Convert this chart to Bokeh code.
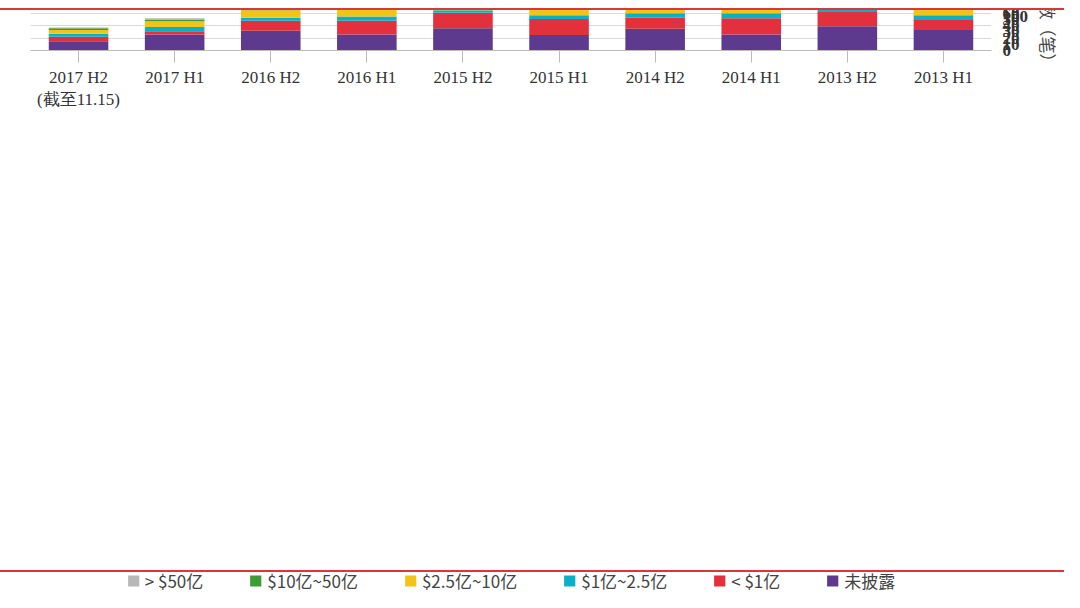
from bokeh.plotting import figure
from bokeh.models import Legend, LegendItem, Div, ColumnDataSource, LinearAxis, SingleIntervalTicker
from bokeh.layouts import column
from bokeh.embed import file_html
from bokeh.resources import INLINE

categories = ["2017 H2\n(截至11.15)", "2017 H1", "2016 H2", "2016 H1", "2015 H2",
              "2015 H1", "2014 H2", "2014 H1", "2013 H2", "2013 H1"]
undisclosed = [15, 26, 32, 26, 36, 25, 35, 26, 39, 33]
lt_1 = [7, 5, 16, 22, 25, 26, 18, 26, 23, 16]
b1_25 = [5, 7, 5, 7, 4, 6, 7, 8, 9, 8]
b25_10 = [6, 9, 12, 11, 14, 9, 20, 11, 19, 12]
b10_50 = [3, 2, 7, 1, 7, 9, 8, 7, 1, 1]
gt_50 = [1, 3, 1, 4, 3, 6, 3, 0, 4, 0]
series_names = ["未披露", "< $1亿", "$1亿~2.5亿", "$2.5亿~10亿", "$10亿~50亿", "> $50亿"]
colors = ["#5e3a8e", "#e2313d", "#0ab0c8", "#f2c418", "#3f9b35", "#b7b7b7"]
keys = ["s0", "s1", "s2", "s3", "s4", "s5"]

src = ColumnDataSource(dict(cat=categories, s0=undisclosed, s1=lt_1, s2=b1_25,
                            s3=b25_10, s4=b10_50, s5=gt_50))

p = figure(x_range=categories, y_range=(0, 100), width=1064, height=560,
           output_backend="svg", toolbar_location=None,
           min_border_left=30, min_border_right=10, min_border_top=40)
r = p.vbar_stack(keys, x="cat", width=0.62, color=colors, source=src, line_color=None)

p.yaxis.visible = False
ax = LinearAxis(ticker=SingleIntervalTicker(interval=10), axis_label="交易数（笔）")
ax.major_label_text_font = "Liberation Serif"
ax.major_label_text_font_size = "17px"
ax.major_label_text_font_style = "bold"
ax.major_label_text_color = "#333333"
ax.axis_label_text_font = "Noto Sans CJK SC"
ax.axis_label_text_font_size = "17px"
ax.axis_label_text_font_style = "normal"
ax.axis_line_color = None
ax.major_tick_line_color = None
ax.minor_tick_line_color = None
p.add_layout(ax, "right")

p.xaxis.major_label_text_font = "Liberation Serif"
p.xaxis.major_label_text_font_size = "17px"
p.xaxis.major_label_text_color = "#333333"
p.xaxis.axis_line_color = "#bbbbbb"
p.xaxis.major_tick_line_color = "#bbbbbb"
p.xaxis.major_tick_out = 12
p.xaxis.major_tick_in = 0
p.xgrid.grid_line_color = None
p.ygrid.grid_line_color = "#d9d9d9"
p.outline_line_color = None

items = [LegendItem(label=series_names[i], renderers=[r[i]]) for i in reversed(range(6))]
leg = Legend(items=items, orientation="horizontal", location="center",
             label_text_font="Noto Sans CJK SC", label_text_font_size="17px",
             spacing=45, border_line_color=None, glyph_width=14, glyph_height=14)
p.add_layout(leg, "below")

top = Div(text="", width=1064, height=2, styles={"background-color": "#d9363e"}, margin=(8, 0, 0, 0))
bot = Div(text="", width=1064, height=2, styles={"background-color": "#d9363e"}, margin=(0, 0, 0, 0))
layout = column(top, p, bot, spacing=0)
open("out.html", "w").write(file_html(layout, INLINE))
